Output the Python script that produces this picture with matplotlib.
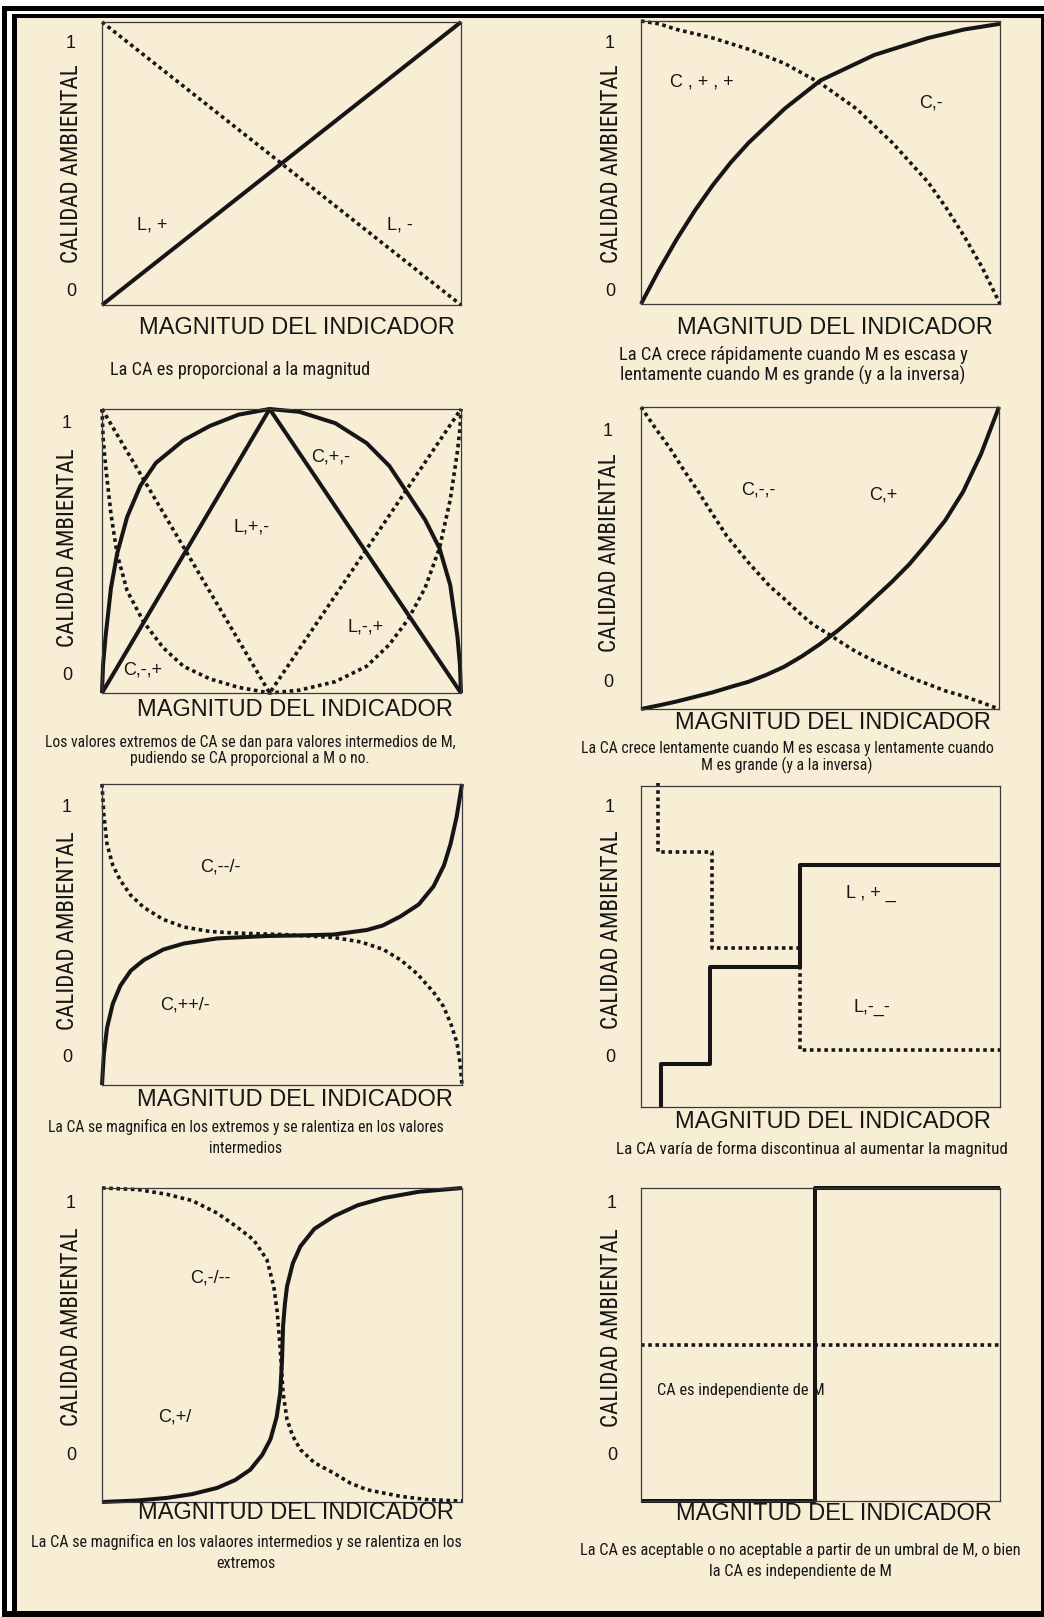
import matplotlib
matplotlib.use("Agg")
import os
import matplotlib.pyplot as plt
from matplotlib import font_manager
from matplotlib.patches import Rectangle

W, H = 1044, 1617
BG = "#f8eed6"
INK = "#161616"

# ---- data (x = magnitud 0..1, y = calidad 0..1) ----
# 1: lineales
p1_solid_x = [0, 1]
p1_solid_y = [0, 1]
p1_dot_x = [0, 1]
p1_dot_y = [1, 0]

# 2: concava / convexa
p2_solid_x = [0, 0.05, 0.1, 0.15, 0.2, 0.25, 0.3, 0.35, 0.4, 0.45, 0.5,
              0.55, 0.6, 0.65, 0.7, 0.75, 0.8, 0.85, 0.9, 0.95, 1.0]
p2_solid_y = [0, 0.12, 0.23, 0.33, 0.42, 0.50, 0.57, 0.63, 0.69, 0.74, 0.79,
              0.82, 0.85, 0.88, 0.90, 0.92, 0.94, 0.955, 0.97, 0.98, 0.99]
p2_dot_x = [0, 0.05, 0.1, 0.15, 0.2, 0.25, 0.3, 0.35, 0.4, 0.45, 0.5,
            0.55, 0.6, 0.65, 0.7, 0.75, 0.8, 0.85, 0.9, 0.95, 1.0]
p2_dot_y = [1.0, 0.99, 0.97, 0.955, 0.94, 0.92, 0.90, 0.875, 0.85, 0.815, 0.78,
            0.735, 0.69, 0.63, 0.57, 0.50, 0.43, 0.34, 0.24, 0.13, 0.0]

# 3: maximo / minimo intermedio
p3_tri_x = [0, 0.467, 1.0]
p3_tri_y = [0, 1.0, 0]
p3_arc_x = [0, 0.003, 0.01, 0.025, 0.042, 0.07, 0.107, 0.15, 0.227, 0.3, 0.38, 0.467,
            0.55, 0.65, 0.737, 0.8, 0.853, 0.9, 0.94, 0.97, 0.99, 0.997, 1.0]
p3_arc_y = [0, 0.1, 0.2, 0.37, 0.49, 0.62, 0.73, 0.81, 0.89, 0.94, 0.98, 1.0,
            0.99, 0.95, 0.88, 0.80, 0.70, 0.61, 0.51, 0.38, 0.2, 0.1, 0.0]
p3_vee_x = [0, 0.467, 1.0]
p3_vee_y = [1.0, 0, 1.0]
p3_cup_x = [0, 0.003, 0.01, 0.025, 0.042, 0.07, 0.116, 0.17, 0.227, 0.3, 0.38, 0.467,
            0.55, 0.65, 0.737, 0.8, 0.853, 0.9, 0.94, 0.97, 0.99, 0.997, 1.0]
p3_cup_y = [1.0, 0.9, 0.8, 0.63, 0.49, 0.36, 0.25, 0.16, 0.094, 0.05, 0.02, 0.0,
            0.01, 0.04, 0.094, 0.17, 0.26, 0.37, 0.51, 0.68, 0.85, 0.93, 1.0]

# 4: crecimiento lento / rapido
p4_solid_x = [0, 0.05, 0.1, 0.15, 0.2, 0.25, 0.3, 0.35, 0.4, 0.45, 0.5,
              0.55, 0.6, 0.65, 0.7, 0.75, 0.8, 0.85, 0.9, 0.95, 1.0]
p4_solid_y = [0, 0.012, 0.025, 0.04, 0.055, 0.073, 0.09, 0.113, 0.14, 0.175, 0.215,
              0.26, 0.31, 0.365, 0.42, 0.48, 0.55, 0.625, 0.72, 0.845, 1.0]
p4_dot_x = [0, 0.04, 0.08, 0.12, 0.16, 0.2, 0.24, 0.3, 0.36, 0.4, 0.44, 0.48, 0.528,
            0.56, 0.6, 0.65, 0.7, 0.75, 0.8, 0.85, 0.9, 0.95, 1.0]
p4_dot_y = [1.0, 0.93, 0.865, 0.79, 0.72, 0.645, 0.572, 0.485, 0.406, 0.365, 0.32, 0.28, 0.245,
            0.22, 0.19, 0.16, 0.133, 0.105, 0.083, 0.06, 0.043, 0.022, 0.0]

# 5: magnifica en los extremos
p5_solid_x = [0, 0.005, 0.014, 0.03, 0.051, 0.08, 0.116, 0.17, 0.227, 0.32, 0.458, 0.55,
              0.644, 0.736, 0.78, 0.829, 0.88, 0.921, 0.95, 0.968, 0.985, 1.0]
p5_solid_y = [0, 0.1, 0.19, 0.27, 0.33, 0.38, 0.415, 0.45, 0.47, 0.487, 0.495, 0.497,
              0.5, 0.515, 0.53, 0.56, 0.6, 0.66, 0.73, 0.80, 0.89, 1.0]
p5_dot_x = [0, 0.005, 0.014, 0.03, 0.051, 0.08, 0.116, 0.17, 0.227, 0.3, 0.366, 0.5,
            0.644, 0.72, 0.782, 0.83, 0.875, 0.92, 0.949, 0.97, 0.986, 0.995, 1.0]
p5_dot_y = [1.0, 0.9, 0.80, 0.73, 0.68, 0.63, 0.59, 0.55, 0.525, 0.51, 0.505, 0.5,
            0.49, 0.475, 0.45, 0.415, 0.37, 0.31, 0.26, 0.2, 0.14, 0.07, 0.0]

# 6: discontinua (escalones)
p6_solid_x = [0.055, 0.055, 0.192, 0.443, 1.0]
p6_solid_y = [0, 0.135, 0.437, 0.754, 0.754]
p6_dot_x = [0.048, 0.048, 0.197, 0.443, 1.0]
p6_dot_y = [1.01, 0.795, 0.494, 0.177, 0.177]

# 7: magnifica en los valores intermedios
p7_solid_x = [0, 0.1, 0.18, 0.25, 0.32, 0.37, 0.412, 0.445, 0.468, 0.485, 0.495, 0.5,
              0.503, 0.508, 0.514, 0.53, 0.551, 0.59, 0.644, 0.71, 0.782, 0.88, 1.0]
p7_solid_y = [0, 0.005, 0.013, 0.025, 0.045, 0.07, 0.103, 0.15, 0.20, 0.27, 0.347, 0.45,
              0.56, 0.63, 0.687, 0.76, 0.814, 0.87, 0.91, 0.945, 0.968, 0.988, 1.0]
p7_dot_x = [0, 0.1, 0.18, 0.25, 0.32, 0.37, 0.421, 0.458, 0.477, 0.486, 0.494, 0.5,
            0.503, 0.514, 0.53, 0.551, 0.59, 0.644, 0.69, 0.736, 0.829, 0.9, 1.0]
p7_dot_y = [1.0, 0.995, 0.98, 0.96, 0.92, 0.88, 0.835, 0.772, 0.687, 0.613, 0.506, 0.40,
            0.347, 0.262, 0.21, 0.167, 0.125, 0.092, 0.06, 0.039, 0.018, 0.008, 0.003]

# 8: umbral / independiente
p8_solid_x = [0, 0.485, 1.0]
p8_solid_y = [0, 1.0, 1.0]
p8_dot_x = [0, 1]
p8_dot_y = [0.5, 0.5]

XLABEL = "MAGNITUD DEL INDICADOR"
YLABEL = "CALIDAD AMBIENTAL"

captions = [
    ["La CA es proporcional a la magnitud"],
    ["La CA crece rápidamente cuando M es escasa y",
     "lentamente cuando M es grande (y a la inversa)"],
    ["Los valores extremos de CA se dan para valores intermedios de M,",
     "pudiendo se CA proporcional a M o no."],
    ["La CA crece lentamente cuando M es escasa y lentamente cuando",
     "M es grande (y a la inversa)"],
    ["La CA se magnifica en los extremos y se ralentiza en los valores",
     "intermedios"],
    ["La CA varía de forma discontinua al aumentar la magnitud"],
    ["La CA se magnifica en los valaores intermedios y se ralentiza en los",
     "extremos"],
    ["La CA es aceptable o no aceptable a partir de un umbral de M, o bien",
     "la CA es independiente de M"],
]

curve_labels = [
    [("L, +", 152, 225), ("L, -", 400, 225)],
    [("C , + , +", 702, 82), ("C,-", 931, 103)],
    [("C,+,-", 331, 457), ("L,+,-", 252, 527), ("L,-,+", 366, 627), ("C,-,+", 143, 670)],
    [("C,-,-", 758, 490), ("C,+", 883, 495)],
    [("C,--/-", 220, 867), ("C,++/-", 185, 1005)],
    [("L , + _", 871, 893), ("L,-_-", 872, 1007)],
    [("C,-/--", 210, 1278), ("C,+/", 175, 1417)],
    [],
]

# layout in pixels
boxes = [(102, 22, 461, 305), (641, 21, 1000, 304),
         (102, 409, 461, 693), (641, 407, 999, 709),
         (102, 784, 462, 1085), (641, 786, 1000, 1107),
         (102, 1188, 462, 1502), (641, 1188, 1000, 1501)]
ylab_pos = [(71, 164), (611, 164), (67, 548), (610, 553),
            (67, 931), (611, 930), (71, 1327), (612, 1328)]
one_pos = [(71, 43), (610, 43), (67, 423), (608, 432),
           (67, 807), (610, 807), (71, 1203), (612, 1203)]
zero_pos = [(71, 292), (610, 292), (67, 675), (608, 682),
            (67, 1058), (610, 1057), (71, 1455), (612, 1455)]
xlab_pos = [(297, 328), (835, 328), (295, 710), (833, 723),
            (295, 1100), (833, 1122), (296, 1513), (834, 1514)]
cap_pos = [(240, [370], 260), (793, [355, 375], 347),
           (250, [742, 758], 410), (787, [748, 765], 411),
           (246, [1127, 1148], 395), (812, [1149], 390),
           (246, [1542, 1563], 430), (800, [1550, 1571], 441)]


def fx(x):
    return x / W


def fy(y):
    return 1 - y / H


def pick_font(cands):
    for fam, stretch in cands:
        try:
            path = font_manager.findfont(
                font_manager.FontProperties(family=fam, stretch=stretch),
                fallback_to_default=False)
        except ValueError:
            continue
        name = os.path.basename(path).lower()
        if stretch == "normal" or "condensed" in name or "narrow" in name:
            return fam, stretch
    return "Liberation Sans", "normal"


NARROW_FAM, NARROW_STRETCH = pick_font([
    ("Liberation Sans Narrow", "normal"),
    ("Arial Narrow", "normal"),
    ("Noto Sans", "condensed"),
    ("Roboto Condensed", "normal"),
    ("DejaVu Sans", "condensed"),
    ("Open Sans", "condensed"),
])
narrow = dict(family=[NARROW_FAM, "DejaVu Sans"], fontstretch=NARROW_STRETCH)

plt.rcParams['font.family'] = ['Liberation Sans', 'DejaVu Sans']

fig = plt.figure(figsize=(W / 100, H / 100), dpi=100, facecolor="white")

# frame around the sheet
bgax = fig.add_axes([0, 0, 1, 1], zorder=-5)
bgax.set_xlim(0, W)
bgax.set_ylim(H, 0)
bgax.axis("off")
bgax.add_patch(Rectangle((2, 6), W - 2, H - 6, color="black", lw=0))
bgax.add_patch(Rectangle((7, 11), W - 7, 1611 - 11, color="white", lw=0))
bgax.add_patch(Rectangle((12, 14), W - 12, 1611 - 14, color="black", lw=0))
bgax.add_patch(Rectangle((17, 18), 1041 - 17, 1611 - 18, color=BG, lw=0))

solid_kw = dict(color=INK, lw=2.9, solid_capstyle="butt", solid_joinstyle="round", clip_on=False)
dot_kw = dict(color=INK, lw=2.6, ls=(0, (1, 1)), dash_capstyle="butt", clip_on=False)

axes = []
for (l, t, r, b) in boxes:
    ax = fig.add_axes([fx(l), fy(b), (r - l) / W, (b - t) / H])
    ax.set_xlim(0, 1)
    ax.set_ylim(0, 1)
    ax.patch.set_alpha(0)
    ax.set_xticks([])
    ax.set_yticks([])
    for s in ax.spines.values():
        s.set_color("#3a3a3a")
        s.set_linewidth(0.9)
    axes.append(ax)

a = axes
a[0].plot(p1_solid_x, p1_solid_y, **solid_kw)
a[0].plot(p1_dot_x, p1_dot_y, **dot_kw)
a[1].plot(p2_solid_x, p2_solid_y, **solid_kw)
a[1].plot(p2_dot_x, p2_dot_y, **dot_kw)
a[2].plot(p3_tri_x, p3_tri_y, **solid_kw)
a[2].plot(p3_arc_x, p3_arc_y, **solid_kw)
a[2].plot(p3_vee_x, p3_vee_y, **dot_kw)
a[2].plot(p3_cup_x, p3_cup_y, **dot_kw)
a[3].plot(p4_solid_x, p4_solid_y, **solid_kw)
a[3].plot(p4_dot_x, p4_dot_y, **dot_kw)
a[4].plot(p5_solid_x, p5_solid_y, **solid_kw)
a[4].plot(p5_dot_x, p5_dot_y, **dot_kw)
a[5].step(p6_solid_x, p6_solid_y, where="post", **solid_kw)
a[5].step(p6_dot_x, p6_dot_y, where="post", **dot_kw)
a[6].plot(p7_solid_x, p7_solid_y, **solid_kw)
a[6].plot(p7_dot_x, p7_dot_y, **dot_kw)
a[7].step(p8_solid_x, p8_solid_y, where="post", **solid_kw)
a[7].plot(p8_dot_x, p8_dot_y, **dot_kw)

renderer = fig.canvas.get_renderer()


def fit(text, target, horizontal=True, lo=0.55, hi=1.1):
    bb = text.get_window_extent(renderer)
    size = bb.width if horizontal else bb.height
    k = min(max(target / size, lo), hi)
    text.set_fontsize(text.get_fontsize() * k)
    return text.get_fontsize()


for i in range(8):
    fig.text(fx(one_pos[i][0]), fy(one_pos[i][1]), "1", ha="center", va="center",
             fontsize=13, color=INK)
    fig.text(fx(zero_pos[i][0]), fy(zero_pos[i][1]), "0", ha="center", va="center",
             fontsize=13, color=INK)
    yl = fig.text(fx(ylab_pos[i][0]), fy(ylab_pos[i][1]), YLABEL, rotation=90,
                  ha="center", va="center", fontsize=16.5, color=INK, **narrow)
    fit(yl, 198, horizontal=False)
    fig.text(fx(xlab_pos[i][0]), fy(xlab_pos[i][1]), XLABEL, ha="center", va="center",
             fontsize=17, color=INK)

    for txt, x, y in curve_labels[i]:
        fig.text(fx(x), fy(y), txt, ha="center", va="center", fontsize=13, color=INK)

    # captions: first line fitted to the width it has on the sheet
    cx, ys, target = cap_pos[i]
    lines = captions[i]
    first = fig.text(fx(cx), fy(ys[0]), lines[0], ha="center", va="center",
                     fontsize=13.5, color=INK, **narrow)
    size = fit(first, target, hi=1.0)
    for line, y in zip(lines[1:], ys[1:]):
        fig.text(fx(cx), fy(y), line, ha="center", va="center",
                 fontsize=size, color=INK, **narrow)

note = fig.text(fx(741), fy(1390), "CA es independiente de M", ha="center", va="center",
                fontsize=13, color=INK, **narrow)
fit(note, 168, hi=1.0)

fig.savefig("out.png", dpi=100, facecolor="white")
